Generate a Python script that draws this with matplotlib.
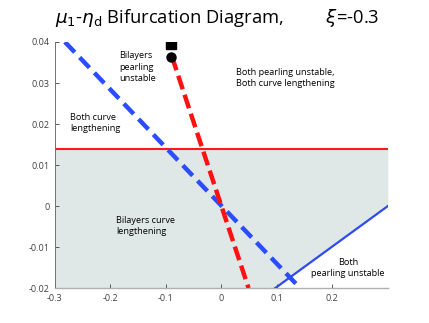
import numpy as np
import matplotlib
matplotlib.use("Agg")
import matplotlib.pyplot as plt

# ---- data ----
x_range = [-0.3, 0.3]
y_range = [-0.02, 0.04]
eta_crit = 0.0138                       # horizontal red line
blue_dash_x = [-0.282, 0.142]           # bilayer pearling boundary
blue_dash_y = [0.04, -0.02]
red_dash_x = [-0.089, 0.049]            # curve lengthening boundary
red_dash_y = [0.0364, -0.02]
blue_solid_x = [0.097, 0.3]             # both pearling boundary
blue_solid_y = [-0.02, 0.0]
square_pt = (-0.091, 0.0394)
circle_pt = (-0.091, 0.0364)
xticks = [-0.3, -0.2, -0.1, 0, 0.1, 0.2]
xticklabels = ['-0.3', '-0.2', '-0.1', '0', '0.1', '0.2']
yticks = [-0.02, -0.01, 0, 0.01, 0.02, 0.03, 0.04]
yticklabels = ['-0.02', '-0.01', '0', '0.01', '0.02', '0.03', '0.04']

plt.rcParams['font.family'] = ['Open Sans', 'DejaVu Sans']
fig = plt.figure(figsize=(4.29, 3.23), dpi=100)
ax = fig.add_axes([0.128, 0.108, 0.776, 0.762])

# shaded region: below red line, above blue solid line
xs = np.linspace(x_range[0], x_range[1], 400)
lower = np.interp(xs, blue_solid_x, blue_solid_y, left=y_range[0])
lower = np.maximum(lower, y_range[0])
ax.fill_between(xs, lower, eta_crit, color='#dfe8e6', lw=0, zorder=0)

ax.axhline(eta_crit, color='#ff1a1a', lw=1.5, zorder=2)
ax.plot(blue_solid_x, blue_solid_y, color='#2f4bf0', lw=1.6, zorder=3)
ax.plot(blue_dash_x, blue_dash_y, color='#2a4dff', lw=3.2, dashes=(3.2, 1.6), zorder=4)
ax.plot(red_dash_x, red_dash_y, color='#ff1111', lw=3.2, dashes=(3.2, 1.3), zorder=5)
ax.plot(*square_pt, marker='s', color='black', ms=6.5, zorder=6)
ax.plot(*circle_pt, marker='o', color='black', ms=6.5, zorder=6)

ax.set_xlim(x_range)
ax.set_ylim(y_range)
ax.set_xticks(xticks)
ax.set_xticklabels(xticklabels)
ax.set_yticks(yticks)
ax.set_yticklabels(yticklabels)
ax.tick_params(direction='in', length=3, width=0.6, labelsize=6.5,
               colors='#404040', pad=4)
for s in ['top', 'right']:
    ax.spines[s].set_visible(False)
ax.spines['left'].set_color('#707070')
ax.spines['left'].set_linewidth(0.7)
ax.spines['bottom'].set_color('#b0b0b0')
ax.spines['bottom'].set_linewidth(1.0)

fs = 6.6
ax.text(-0.1835, 0.0377, 'Bilayers\npearling\nunstable', fontsize=fs, va='top', ha='left', linespacing=1.3)
ax.text(0.026, 0.0337, 'Both pearling unstable,\nBoth curve lengthening', fontsize=fs, va='top', ha='left', linespacing=1.3)
ax.text(-0.272, 0.0227, 'Both curve\nlengthening', fontsize=fs, va='top', ha='left', linespacing=1.3)
ax.text(-0.1895, -0.0023, 'Bilayers curve\nlengthening', fontsize=fs, va='top', ha='left', linespacing=1.3)
ax.text(0.228, -0.0126, 'Both\npearling unstable', fontsize=fs, va='top', ha='center', linespacing=1.3)

fig.text(0.506, 0.945, r'$\mu_{\mathrm{1}}$-$\eta_{\mathrm{d}}$ Bifurcation Diagram,         $\xi$=-0.3',
         ha='center', va='center', fontsize=13.2)

fig.savefig('out.png', dpi=100)
